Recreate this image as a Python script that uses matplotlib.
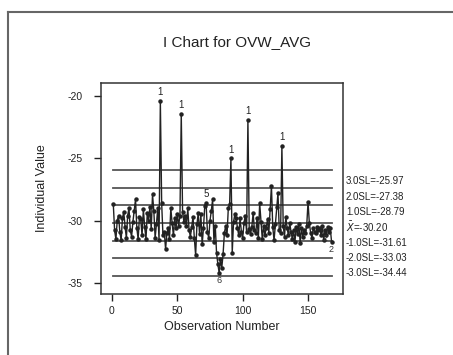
import numpy as np
import matplotlib
matplotlib.use("Agg")
import matplotlib.pyplot as plt
from matplotlib.lines import Line2D

plt.rcParams['font.family'] = ['Liberation Sans Narrow', 'Liberation Sans', 'DejaVu Sans']
plt.rcParams['axes.unicode_minus'] = False

# individual values, obs 1..168
ovw_avg = [
    -28.7, -30.8, -31.5, -30.0, -29.6, -30.9, -31.6, -29.8, -29.3, -30.5,
    -31.4, -29.6, -29.0, -30.8, -31.3, -30.1, -29.2, -28.3, -30.6, -31.5,
    -29.7, -29.9, -31.2, -29.1, -30.5, -31.5, -29.4, -30.0, -28.9, -30.7,
    -27.9, -29.2, -31.4, -30.3, -29.0, -31.6, -20.4, -28.6, -31.2, -30.9,
    -32.3, -31.0, -30.6, -31.5, -29.0, -30.2, -31.2, -29.8, -30.6, -29.5,
    -30.4, -29.6, -21.4, -29.3, -30.1, -29.6, -30.4, -29.0, -30.8, -31.3,
    -30.5, -29.7, -31.4, -32.8, -30.3, -29.4, -31.1, -29.5, -31.9, -30.6,
    -28.8, -28.6, -30.9, -31.4, -30.0, -29.2, -28.3, -31.7, -30.4, -32.6,
    -33.5, -34.2, -33.1, -33.8, -32.7, -31.0, -30.4, -31.2, -29.0, -28.7,
    -25.0, -32.6, -30.1, -29.5, -29.8, -30.6, -31.2, -29.8, -30.9, -31.4,
    -30.2, -29.6, -30.9, -21.9, -30.7, -31.1, -30.5, -29.4, -30.8, -31.0,
    -29.8, -31.4, -28.6, -30.1, -31.5, -30.4, -31.2, -30.6, -29.9, -31.0,
    -29.1, -27.2, -30.5, -31.6, -30.3, -28.9, -27.8, -30.8, -31.0, -24.0,
    -30.4, -31.3, -29.7, -30.6, -31.2, -30.2, -30.9, -31.5, -30.8, -31.7,
    -30.5, -31.1, -30.3, -31.8, -30.6, -31.3, -30.8, -31.0, -30.4, -28.5,
    -30.2, -31.0, -31.4, -30.6, -30.9, -31.0, -30.5, -30.8, -30.6, -31.2,
    -30.4, -31.6, -30.8, -31.2, -30.5, -30.9, -30.6, -31.7,
]
obs = np.arange(1, len(ovw_avg) + 1)

limit_vals = [-25.97, -27.38, -28.79, -30.20, -31.61, -33.03, -34.44]
limit_names = ['3.0SL', '2.0SL', '1.0SL', r'$\bar{X}$', '-1.0SL', '-2.0SL', '-3.0SL']

# test flags (obs, label)
flag_obs = [37, 53, 91, 104, 130, 72, 82, 163, 168]
flag_txt = ['1', '1', '1', '1', '1', '5', '6', '2', '2']

fig = plt.figure(figsize=(4.53, 3.55), dpi=100)
ax = fig.add_axes([0.223, 0.172, 0.534, 0.594])

for v in limit_vals:
    ax.plot([obs[0], obs[-1]], [v, v], color='#555555', lw=1.3, zorder=1)

ax.plot(obs, ovw_avg, color='#222222', lw=1.0, marker='o', ms=2.2,
        mfc='#222222', mec='#222222', zorder=2)

for o, t in zip(flag_obs, flag_txt):
    y = ovw_avg[o - 1]
    if t in ('6', '2'):
        ax.text(o, y - 0.25, t, ha='center', va='top', fontsize=6.5, color='#333333')
    else:
        ax.text(o, y + 0.3, t, ha='center', va='bottom', fontsize=7, color='#222222')

ax.set_xlim(-8.4, 176.7)
ax.set_ylim(-35.9, -18.95)
ax.set_xticks([0, 50, 100, 150])
ax.set_yticks([-35, -30, -25, -20])
ax.tick_params(direction='out', length=5, width=1, labelsize=7.5, colors='#222222')
ax.tick_params(axis='y', pad=8)
for s in ax.spines.values():
    s.set_linewidth(1.1)
    s.set_color('#333333')

ax.set_xlabel('Observation Number', fontsize=9, color='#222222', labelpad=4)
ax.set_ylabel('Individual Value', fontsize=9, color='#222222', labelpad=14)

fig.text(237 / 453, 1 - 42 / 355, 'I Chart for OVW_AVG', ha='center', va='center',
         fontsize=11, color='#222222')

label_y = [181, 197, 212, 227, 243, 258, 273]
for name, v, py in zip(limit_names, limit_vals, label_y):
    fig.text(346 / 453, 1 - py / 355, f'{name}={v:.2f}', ha='left', va='center',
             fontsize=7, color='#222222')

# outer panel frame (top and left edges)
fig.add_artist(Line2D([8 / 453, 8 / 453], [0, 1 - 12 / 355], transform=fig.transFigure,
                      color='#666666', lw=1.5))
fig.add_artist(Line2D([8 / 453, 1], [1 - 12 / 355, 1 - 12 / 355], transform=fig.transFigure,
                      color='#666666', lw=1.5))

fig.savefig('out.png', dpi=100)
